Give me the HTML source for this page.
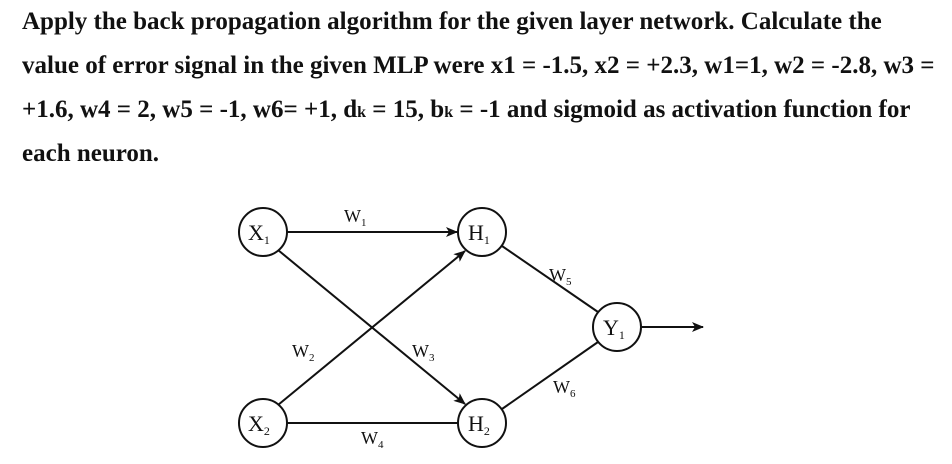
<!DOCTYPE html>
<html><head><style>
body{margin:0;width:952px;height:464px;background:#fff;overflow:hidden}
.t{position:absolute;left:22px;font-family:"Liberation Serif",serif;font-weight:bold;font-size:25px;color:#111;line-height:44px;white-space:nowrap}
</style></head><body>
<div class="t" style="top:0px">Apply the back propagation algorithm for the given layer network. Calculate the</div>
<div class="t" style="top:44px">value of error signal in the given MLP were x1 = -1.5, x2 = +2.3, w1=1, w2 = -2.8, w3 =</div>
<div class="t" style="top:88px">+1.6, w4 = 2, w5 = -1, w6= +1, d<span style="font-size:16px">k</span> = 15, b<span style="font-size:16px">k</span> = -1 and sigmoid as activation function for</div>
<div class="t" style="top:132px">each neuron.</div>
<svg width="952" height="464" style="position:absolute;left:0;top:0" font-family="Liberation Serif, serif">
<defs><marker id="a" markerWidth="12" markerHeight="10" refX="11" refY="5" orient="auto" markerUnits="userSpaceOnUse"><path d="M0,0 L12,5 L0,10 L3,5z" fill="#111"/></marker></defs>
<g stroke="#111" stroke-width="2" fill="none">
<circle cx="263" cy="232" r="24"/><circle cx="263" cy="423" r="24"/>
<circle cx="482" cy="232" r="24"/><circle cx="482" cy="423" r="24"/>
<circle cx="617" cy="327" r="24"/>
<line x1="287" y1="232" x2="457" y2="232" marker-end="url(#a)"/>
<line x1="278" y1="250" x2="465" y2="404" marker-end="url(#a)"/>
<line x1="278" y1="405" x2="465" y2="251" marker-end="url(#a)"/>
<line x1="287" y1="423" x2="458" y2="423"/>
<line x1="502" y1="246" x2="598" y2="312"/>
<line x1="502" y1="409" x2="598" y2="342"/>
<line x1="641" y1="327" x2="703" y2="327" marker-end="url(#a)"/>
</g>
<g fill="#111" font-size="22">
<text x="248" y="240">X<tspan font-size="12" dy="4">1</tspan></text>
<text x="248" y="431">X<tspan font-size="12" dy="4">2</tspan></text>
<text x="468" y="240">H<tspan font-size="12" dy="4">1</tspan></text>
<text x="468" y="431">H<tspan font-size="12" dy="4">2</tspan></text>
<text x="603" y="335">Y<tspan font-size="12" dy="4">1</tspan></text>
</g>
<g fill="#111" font-size="18">
<text x="344" y="222">W<tspan font-size="11" dy="4">1</tspan></text>
<text x="292" y="357">W<tspan font-size="11" dy="4">2</tspan></text>
<text x="412" y="357">W<tspan font-size="11" dy="4">3</tspan></text>
<text x="361" y="444">W<tspan font-size="11" dy="4">4</tspan></text>
<text x="549" y="281">W<tspan font-size="11" dy="4">5</tspan></text>
<text x="553" y="393">W<tspan font-size="11" dy="4">6</tspan></text>
</g>
</svg>
</body></html>
